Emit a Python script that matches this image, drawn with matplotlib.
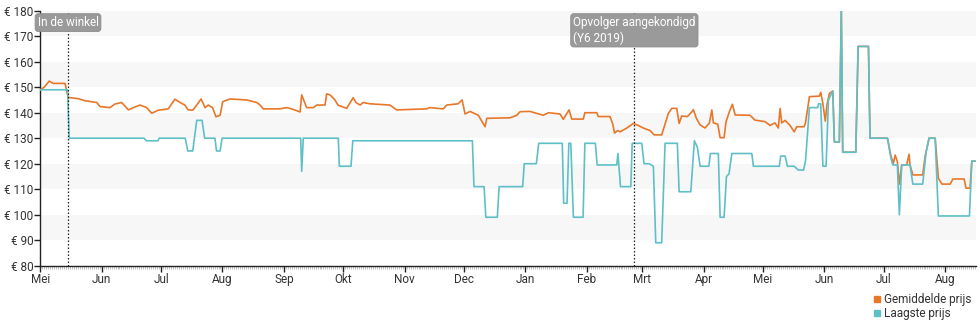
import matplotlib
matplotlib.use("Agg")
import matplotlib.pyplot as plt
import matplotlib.dates as mdates
from matplotlib.lines import Line2D
import pandas as pd

plt.rcParams["font.family"] = ["Roboto", "DejaVu Sans"]

START = pd.Timestamp("2018-05-01")

# days since START, price in euro
low_days = [0, 13.8, 14.6, 52.4, 53.5, 59.4, 60, 73.2, 74.5, 77, 79, 81.7, 83, 88.2, 89, 90.8, 91.8,
            131.5, 132, 132.8, 150.5, 151, 156.9, 157.8, 218.2, 219, 224.1, 225, 230.8, 231.7,
            243.6, 244.4, 250.5, 251.7, 263.6, 264.3, 266, 266.9, 267.9, 269.2, 274.1, 275, 280.3,
            281.2, 291.1, 291.7, 293, 298.2, 298.9, 303.7, 304.9, 307.4, 309.6, 310.8, 313.8, 315.5,
            321.7, 322.6, 328.5, 330.3, 331.8, 333.2, 337.6, 338.4, 342.4, 343.3, 345.3, 346.5, 347.8,
            349.2, 359.3, 360.1, 373.2, 373.9, 376.1, 377.3, 380.7, 382.8, 385.4, 386.4, 388.4, 392.6,
            393, 394.1, 395.2, 396.8, 398, 400.2, 401, 403.5, 404.5, 405.2, 411.8, 413, 418.2, 419,
            427.8, 429.6, 430.5, 432.8, 433.8, 435, 439.2, 440.6, 445.6, 447.3, 448.8, 451.9, 453.5,
            469.2, 470.4, 472]
low_price = [149, 149, 130, 130, 129, 129, 130, 130, 125, 125, 137, 137, 130, 130, 125, 125, 130,
             130, 117, 130, 130, 119, 119, 129, 129, 111, 111, 99, 99, 111,
             111, 120, 120, 128, 128, 104.5, 104.5, 128, 128, 99, 99, 128, 128,
             119.5, 119.5, 124, 111, 111, 128, 128, 120, 120, 119, 89, 89, 128,
             128, 109, 109, 129, 126.5, 119, 119, 124, 124, 99, 99, 115, 116,
             124, 124, 119, 119, 123, 123, 119, 119, 117.5, 117.5, 121, 142, 142,
             143.5, 143.5, 119, 119, 145, 148.5, 128.5, 128.5, 180, 124.5, 124.5, 166, 166, 130,
             130, 122, 119.5, 119.5, 100, 119.5, 119.5, 112, 112, 124.5, 130, 130, 99.5,
             99.5, 121, 121]

avg_days = [0, 2, 4.5, 6.6, 12.5, 14.1, 19.2, 22.6, 28.5, 30.2, 35.2, 37.7, 41.1, 44.5, 47, 50.4,
            53.7, 56.3, 59.6, 64.6, 68, 70.6, 73, 74.7, 77, 79, 81.2, 83.2, 84.8, 87, 88.7, 90.8,
            92.1, 95.8, 104.2, 109.3, 111, 112.6, 121, 124.4, 127, 131.2, 132, 134.5, 137.9, 139.6,
            143.8, 144.6, 146.3, 148.8, 150.3, 154.7, 158, 159.4, 161.5, 163, 166.5, 176.6, 180,
            195, 196.8, 203.5, 205.2, 211, 213, 214.5, 217, 221.2, 224.6, 225.5, 237.2, 240.6,
            242.3, 247.3, 254, 256.6, 262.5, 264.1, 267, 268.4, 274.2, 275, 281, 281.8, 287.7,
            289.1, 290, 291.5, 292.8, 296.2, 299.5, 302, 304.5, 307.9, 310, 313.8, 317.2, 318.9,
            321.4, 322.6, 323.9, 326.8, 329, 329.8, 331.2, 333.2, 335.7, 337.9, 339.1, 339.9,
            342.1, 343.3, 345.3, 346.3, 348.3, 349.5, 350.9, 358.4, 360.9, 366, 368.5, 371, 372.7,
            373.6, 374.4, 376.1, 378.6, 380.7, 382, 385.7, 386.4, 388.4, 393.4, 394.1, 395.1,
            396.4, 397.2, 398.5, 400.2, 401, 403.5, 404.5, 405.2, 411.8, 413, 418.2, 419, 427.8,
            429.6, 430.8, 431.7, 432.8, 433.8, 435, 437.5, 438.7, 439.2, 440.6, 445.6, 446.8,
            448.8, 451.9, 453.5, 455.3, 459.5, 460.8, 466.5, 467.5, 469.5, 470.4, 472]
avg_price = [149, 150, 152.4, 151.5, 151.5, 146, 145.5, 144.7, 144, 142.4, 142, 143.4, 144, 141.1, 142, 143,
             142, 139.8, 141, 141.5, 145.3, 144, 143, 141.1, 141, 143, 145.4, 142, 143, 142, 138.4, 139,
             144.3, 145.4, 145, 144, 143, 141.5, 141.5, 142, 141.5, 140.3, 147, 142, 142, 143,
             143, 147.4, 147, 145, 143, 141.7, 145.9, 144, 143, 144, 143.5, 143, 141.1,
             141.5, 142, 141.5, 143, 143.5, 145, 139.5, 140.5, 139, 134.5, 137.8, 138, 139,
             140.4, 140.5, 139, 140, 139.5, 137.4, 141.1, 137.5, 137.5, 140, 140, 138.5, 138.5,
             135.5, 132, 133, 132.5, 134, 135.8, 135, 134, 133, 131.3, 131.3, 139.8, 141.7,
             141.7, 135.8, 138.7, 138.5, 140.3, 141.2, 138, 135.2, 134, 136, 141.1, 136,
             135.5, 130.2, 130.2, 136.5, 141.1, 143.3, 139.1, 139, 137.1, 136.5, 135, 136, 134,
             141.7, 136, 137, 135, 132.5, 134.5, 134.5, 136, 146.3, 146.5, 148, 144,
             136.7, 143, 147.6, 148.5, 128.5, 128.5, 180, 124.5, 124.5, 166, 166, 130, 130,
             122.8, 120.2, 123.4, 120.8, 112, 119.5, 119.5, 123.7, 119.5, 115.6, 115.6, 122.8,
             130, 130, 114.3, 112, 112, 114, 114, 110.4, 110.4, 121, 121]

month_labels = ["Mei", "Jun", "Jul", "Aug", "Sep", "Okt", "Nov", "Dec", "Jan", "Feb",
                "Mrt", "Apr", "Mei", "Jun", "Jul", "Aug"]
price_ticks = [80, 90, 100, 110, 120, 130, 140, 150, 160, 170, 180]

events = [("2018-05-15", "In de winkel"),
          ("2019-02-25", "Opvolger aangekondigd\n(Y6 2019)")]

ORANGE = "#e8772a"
CYAN = "#5ec0c7"


def to_dates(days):
    return START + pd.to_timedelta(days, unit="D")


fig = plt.figure(figsize=(9.8, 3.25), dpi=100)
ax = fig.add_axes([0.0411, 0.1825, 0.955, 0.7845])

# alternating bands
for lo in price_ticks[1:-1:2]:
    ax.axhspan(lo, lo + 10, color="#f7f7f7", lw=0, zorder=0)
ax.axhspan(170, 180, color="#f7f7f7", lw=0, zorder=0)

ax.plot(to_dates(avg_days), avg_price, color=ORANGE, lw=1.2, zorder=3)
ax.plot(to_dates(low_days), low_price, color=CYAN, lw=1.2, zorder=4)

for d, label in events:
    dt = pd.Timestamp(d)
    ax.axvline(dt, color="#222222", lw=0.9, ls=(0, (1.2, 1.6)), zorder=5)
    ax.text(dt, 177.9, label, ha="center", va="top", color="white", fontsize=8.5,
            multialignment="left", zorder=6,
            bbox=dict(boxstyle="round,pad=0.2,rounding_size=0.25", fc="#9a9a9a", ec="#8a8a8a", lw=0.6))

ax.set_xlim(START, START + pd.Timedelta(days=472.6))
ax.set_ylim(80, 180)

month_starts = pd.date_range(START, periods=len(month_labels), freq="MS")
ax.set_xticks(month_starts)
ax.set_xticklabels(month_labels)
ax.xaxis.set_minor_locator(mdates.DayLocator())
ax.set_yticks(price_ticks)
ax.set_yticklabels([f"€ {p}" for p in price_ticks])

ax.tick_params(axis="both", which="major", labelsize=8.5, colors="#222222", length=4, width=1,
               labelcolor="#333333", pad=1)
ax.tick_params(axis="x", which="minor", length=2.5, width=0.5, colors="#aaaaaa")
for side in ("top", "right"):
    ax.spines[side].set_visible(False)
for side in ("left", "bottom"):
    ax.spines[side].set_color("#222222")
    ax.spines[side].set_linewidth(1)

handles = [Line2D([], [], ls="none", marker="s", ms=5, color=ORANGE),
           Line2D([], [], ls="none", marker="s", ms=5, color=CYAN)]
fig.legend(handles, ["Gemiddelde prijs", "Laagste prijs"], loc="lower right",
           bbox_to_anchor=(1.0, -0.01), frameon=False, fontsize=8.5, handletextpad=0.1,
           labelspacing=0.05, handlelength=1.0, borderpad=0.2, labelcolor="#333333")

fig.savefig("out.png", dpi=100)
